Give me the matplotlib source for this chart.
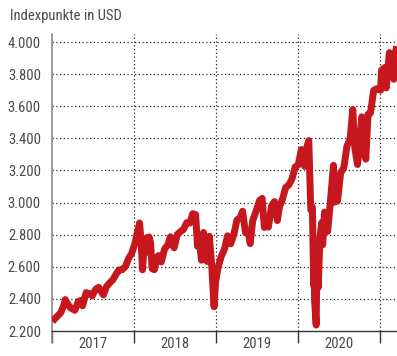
import matplotlib
matplotlib.use("Agg")
import matplotlib.pyplot as plt
from matplotlib import font_manager
import pandas as pd

# Index level (points, USD) at selected dates
dates = [
    "2017-01-03", "2017-01-13", "2017-01-27", "2017-02-10", "2017-02-24", "2017-03-01",
    "2017-03-10", "2017-03-24", "2017-04-13", "2017-04-28", "2017-05-12", "2017-05-17",
    "2017-06-02", "2017-06-16", "2017-06-29", "2017-07-14", "2017-07-28", "2017-08-11",
    "2017-08-18", "2017-09-01", "2017-09-15", "2017-09-29", "2017-10-13", "2017-10-27",
    "2017-11-10", "2017-11-24", "2017-12-08", "2017-12-22",
    "2018-01-05", "2018-01-12", "2018-01-26", "2018-02-02", "2018-02-08", "2018-02-16",
    "2018-02-26", "2018-03-02", "2018-03-09", "2018-03-16", "2018-03-23", "2018-04-02",
    "2018-04-13", "2018-04-20", "2018-05-03", "2018-05-18", "2018-06-01", "2018-06-12",
    "2018-06-29", "2018-07-13", "2018-07-27", "2018-08-10", "2018-08-24", "2018-09-07",
    "2018-09-20", "2018-10-03", "2018-10-11", "2018-10-19", "2018-10-29", "2018-11-07",
    "2018-11-20", "2018-11-23", "2018-12-03", "2018-12-14", "2018-12-24", "2018-12-31",
    "2019-01-11", "2019-01-25", "2019-02-08", "2019-02-22", "2019-03-08", "2019-03-22",
    "2019-04-05", "2019-04-19", "2019-04-30", "2019-05-13", "2019-05-24", "2019-06-03",
    "2019-06-14", "2019-06-28", "2019-07-15", "2019-07-26", "2019-08-05", "2019-08-16",
    "2019-08-23", "2019-09-06", "2019-09-19", "2019-10-02", "2019-10-11", "2019-10-25",
    "2019-11-08", "2019-11-22", "2019-12-06", "2019-12-20",
    "2020-01-03", "2020-01-17", "2020-01-31", "2020-02-07", "2020-02-19", "2020-02-28",
    "2020-03-06", "2020-03-12", "2020-03-13", "2020-03-16", "2020-03-23", "2020-03-26",
    "2020-04-01", "2020-04-09", "2020-04-17", "2020-04-21", "2020-04-29", "2020-05-13",
    "2020-05-22", "2020-06-08", "2020-06-11", "2020-06-19", "2020-06-26", "2020-07-10",
    "2020-07-24", "2020-08-07", "2020-08-21", "2020-09-02", "2020-09-11", "2020-09-23",
    "2020-10-02", "2020-10-12", "2020-10-30", "2020-11-09", "2020-11-20", "2020-12-04",
    "2020-12-18",
    "2021-01-04", "2021-01-08", "2021-01-22", "2021-01-29", "2021-02-12", "2021-02-25",
    "2021-03-04", "2021-03-12", "2021-03-17",
]
values = [
    2258, 2275, 2295, 2316, 2367, 2396,
    2373, 2344, 2329, 2384, 2391, 2357,
    2439, 2433, 2419, 2459, 2472, 2441,
    2425, 2477, 2500, 2519, 2553, 2581,
    2582, 2602, 2651, 2683,
    2743, 2786, 2873, 2762, 2581, 2732,
    2780, 2691, 2786, 2752, 2588, 2582,
    2656, 2670, 2630, 2713, 2735, 2787,
    2718, 2801, 2819, 2833, 2875, 2872,
    2931, 2925, 2728, 2767, 2641, 2814,
    2642, 2633, 2790, 2600, 2351, 2507,
    2596, 2665, 2708, 2793, 2743, 2801,
    2892, 2905, 2946, 2812, 2826, 2744,
    2887, 2942, 3014, 3026, 2845, 2889,
    2847, 2979, 3006, 2888, 2970, 3023,
    3093, 3110, 3146, 3221,
    3235, 3330, 3226, 3328, 3386, 2954,
    2972, 2481, 2711, 2386, 2237, 2630,
    2471, 2790, 2875, 2737, 2940, 2820,
    2955, 3232, 3002, 3098, 3009, 3185,
    3216, 3351, 3397, 3580, 3341, 3237,
    3348, 3534, 3270, 3550, 3558, 3699,
    3709,
    3700, 3824, 3841, 3714, 3934, 3829,
    3768, 3943, 3974,
]

years = [2017, 2018, 2019, 2020]
y_ticks = [2200, 2400, 2600, 2800, 3000, 3200, 3400, 3600, 3800, 4000]
y_label = "Indexpunkte in USD"

# Prefer a narrow sans face
available = {f.name for f in font_manager.fontManager.ttflist}
stretch = "normal"
family = "DejaVu Sans"
for cand in ["Roboto Condensed", "Liberation Sans Narrow", "Open Sans Condensed",
             "Noto Sans Condensed"]:
    if cand in available:
        family = cand
        break
else:
    stretch = "condensed"
plt.rcParams["font.family"] = [family, "DejaVu Sans"]
plt.rcParams["font.stretch"] = stretch

text_color = "#4a4a4a"
line_color = "#c7171e"
fs = 10.5

fig = plt.figure(figsize=(3.97, 3.56), dpi=100)
ax = fig.add_axes([52 / 397, (356 - 331) / 356, 1 - 52 / 397, (331 - 34) / 356])

x = pd.to_datetime(dates)
ax.plot(x, values, color=line_color, lw=5.0, solid_joinstyle="round",
        solid_capstyle="butt", zorder=3)

ax.set_xlim(pd.Timestamp("2017-01-01"), pd.Timestamp("2021-03-18"))
ax.set_ylim(2200, 4050)

# Horizontal dotted grid
for v in y_ticks[1:]:
    ax.axhline(v, color="#222222", lw=0.9, ls=(0, (1, 2)), zorder=1)

# Year boundaries: dotted vertical lines and ticks
bounds = [pd.Timestamp(f"{y}-01-01") for y in years + [years[-1] + 1]]
for b in bounds[1:]:
    ax.axvline(b, color="#222222", lw=0.9, ls=(0, (1, 2)), zorder=1)
ax.set_xticks(bounds)
ax.set_xticklabels([])
ax.tick_params(axis="x", which="major", direction="out", length=8.5, width=1.0,
               color="#333333")

mids = [pd.Timestamp(f"{y}-07-02") for y in years]
ax.set_xticks(mids, minor=True)
ax.set_xticklabels([str(y) for y in years], minor=True)
ax.tick_params(axis="x", which="minor", length=0, pad=4, labelsize=fs,
               labelcolor=text_color)

ax.set_yticks(y_ticks)
ax.set_yticklabels([f"{v:,}".replace(",", ".") for v in y_ticks])
ax.tick_params(axis="y", length=0, pad=8, labelsize=fs, labelcolor=text_color)

for s in ["top", "right"]:
    ax.spines[s].set_visible(False)
ax.spines["left"].set_color("#8a8a8a")
ax.spines["left"].set_linewidth(1.2)
ax.spines["bottom"].set_color("#333333")
ax.spines["bottom"].set_linewidth(1.0)
ax.spines["left"].set_bounds(2200 - 11 * 6.25, 4050)

fig.text(10 / 397, 1 - 16 / 356, y_label, fontsize=fs, color=text_color,
         ha="left", va="center")

fig.savefig("out.png", dpi=100)
